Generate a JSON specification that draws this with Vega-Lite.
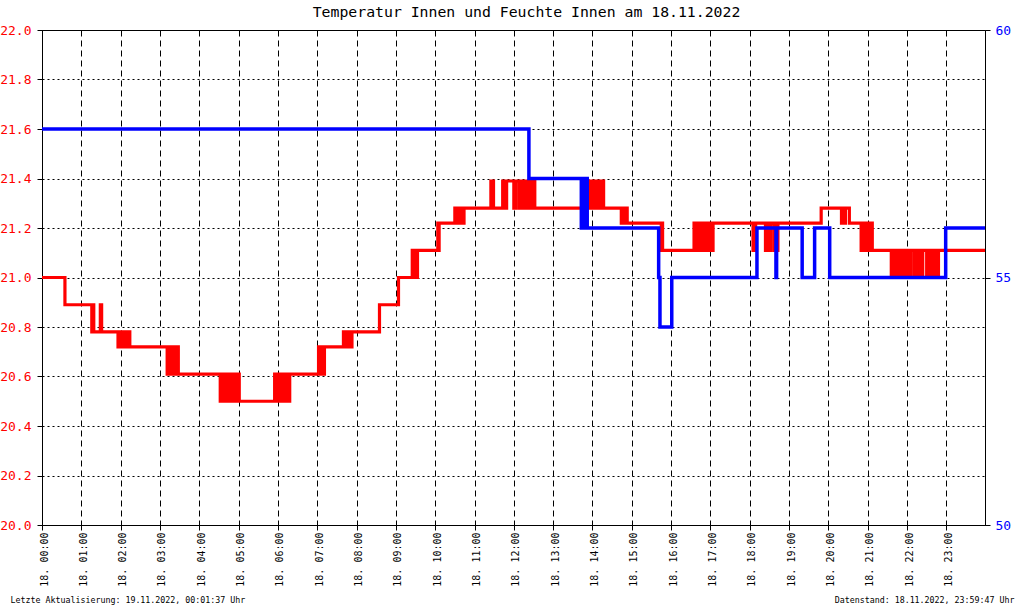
{
  "$schema": "https://vega.github.io/schema/vega-lite/v6.json",
  "width": 943,
  "height": 495,
  "autosize": {"type": "none"},
  "padding": {"left": 42, "top": 30, "right": 35, "bottom": 81},
  "title": {
    "text": "Temperatur Innen und Feuchte Innen am 18.11.2022",
    "font": "DejaVu Sans Mono",
    "fontSize": 14.8,
    "fontWeight": "normal",
    "color": "black",
    "anchor": "middle",
    "dx": 13,
    "offset": 4
  },
  "config": {
    "view": {"stroke": "black", "strokeWidth": 1}
  },
  "layer": [
    {
      "data": {"values": [
      {"time": "2022-11-18T00:00", "temp": 21.00},
      {"time": "2022-11-18T00:35", "temp": 20.89},
      {"time": "2022-11-18T01:16", "temp": 20.78},
      {"time": "2022-11-18T01:18", "temp": 20.89},
      {"time": "2022-11-18T01:19", "temp": 20.78},
      {"time": "2022-11-18T01:29", "temp": 20.89},
      {"time": "2022-11-18T01:31", "temp": 20.78},
      {"time": "2022-11-18T01:56", "temp": 20.72},
      {"time": "2022-11-18T01:58", "temp": 20.78},
      {"time": "2022-11-18T02:01", "temp": 20.72},
      {"time": "2022-11-18T02:03", "temp": 20.78},
      {"time": "2022-11-18T02:06", "temp": 20.72},
      {"time": "2022-11-18T02:08", "temp": 20.78},
      {"time": "2022-11-18T02:11", "temp": 20.72},
      {"time": "2022-11-18T02:12", "temp": 20.78},
      {"time": "2022-11-18T02:14", "temp": 20.72},
      {"time": "2022-11-18T03:11", "temp": 20.61},
      {"time": "2022-11-18T03:12", "temp": 20.72},
      {"time": "2022-11-18T03:14", "temp": 20.61},
      {"time": "2022-11-18T03:16", "temp": 20.72},
      {"time": "2022-11-18T03:18", "temp": 20.61},
      {"time": "2022-11-18T03:20", "temp": 20.72},
      {"time": "2022-11-18T03:22", "temp": 20.61},
      {"time": "2022-11-18T03:24", "temp": 20.72},
      {"time": "2022-11-18T03:26", "temp": 20.61},
      {"time": "2022-11-18T03:27", "temp": 20.72},
      {"time": "2022-11-18T03:28", "temp": 20.61},
      {"time": "2022-11-18T04:32", "temp": 20.50},
      {"time": "2022-11-18T04:33", "temp": 20.61},
      {"time": "2022-11-18T04:34", "temp": 20.50},
      {"time": "2022-11-18T04:36", "temp": 20.61},
      {"time": "2022-11-18T04:40", "temp": 20.50},
      {"time": "2022-11-18T04:44", "temp": 20.61},
      {"time": "2022-11-18T04:47", "temp": 20.50},
      {"time": "2022-11-18T04:50", "temp": 20.61},
      {"time": "2022-11-18T04:53", "temp": 20.50},
      {"time": "2022-11-18T04:57", "temp": 20.61},
      {"time": "2022-11-18T05:01", "temp": 20.50},
      {"time": "2022-11-18T05:55", "temp": 20.61},
      {"time": "2022-11-18T05:56", "temp": 20.50},
      {"time": "2022-11-18T05:58", "temp": 20.61},
      {"time": "2022-11-18T06:00", "temp": 20.50},
      {"time": "2022-11-18T06:03", "temp": 20.61},
      {"time": "2022-11-18T06:05", "temp": 20.50},
      {"time": "2022-11-18T06:08", "temp": 20.61},
      {"time": "2022-11-18T06:10", "temp": 20.50},
      {"time": "2022-11-18T06:13", "temp": 20.61},
      {"time": "2022-11-18T06:15", "temp": 20.50},
      {"time": "2022-11-18T06:18", "temp": 20.61},
      {"time": "2022-11-18T07:02", "temp": 20.72},
      {"time": "2022-11-18T07:04", "temp": 20.61},
      {"time": "2022-11-18T07:06", "temp": 20.72},
      {"time": "2022-11-18T07:08", "temp": 20.61},
      {"time": "2022-11-18T07:11", "temp": 20.72},
      {"time": "2022-11-18T07:40", "temp": 20.78},
      {"time": "2022-11-18T07:42", "temp": 20.72},
      {"time": "2022-11-18T07:45", "temp": 20.78},
      {"time": "2022-11-18T07:47", "temp": 20.72},
      {"time": "2022-11-18T07:50", "temp": 20.78},
      {"time": "2022-11-18T07:51", "temp": 20.72},
      {"time": "2022-11-18T07:53", "temp": 20.78},
      {"time": "2022-11-18T08:35", "temp": 20.89},
      {"time": "2022-11-18T09:04", "temp": 21.00},
      {"time": "2022-11-18T09:25", "temp": 21.11},
      {"time": "2022-11-18T09:27", "temp": 21.00},
      {"time": "2022-11-18T09:29", "temp": 21.11},
      {"time": "2022-11-18T09:31", "temp": 21.00},
      {"time": "2022-11-18T09:33", "temp": 21.11},
      {"time": "2022-11-18T10:04", "temp": 21.22},
      {"time": "2022-11-18T10:05", "temp": 21.11},
      {"time": "2022-11-18T10:06", "temp": 21.22},
      {"time": "2022-11-18T10:30", "temp": 21.28},
      {"time": "2022-11-18T10:32", "temp": 21.22},
      {"time": "2022-11-18T10:35", "temp": 21.28},
      {"time": "2022-11-18T10:37", "temp": 21.22},
      {"time": "2022-11-18T10:40", "temp": 21.28},
      {"time": "2022-11-18T10:42", "temp": 21.22},
      {"time": "2022-11-18T10:44", "temp": 21.28},
      {"time": "2022-11-18T11:25", "temp": 21.39},
      {"time": "2022-11-18T11:29", "temp": 21.28},
      {"time": "2022-11-18T11:43", "temp": 21.39},
      {"time": "2022-11-18T11:44", "temp": 21.28},
      {"time": "2022-11-18T11:46", "temp": 21.39},
      {"time": "2022-11-18T11:47", "temp": 21.28},
      {"time": "2022-11-18T11:49", "temp": 21.39},
      {"time": "2022-11-18T12:00", "temp": 21.28},
      {"time": "2022-11-18T12:03", "temp": 21.39},
      {"time": "2022-11-18T12:08", "temp": 21.28},
      {"time": "2022-11-18T12:09", "temp": 21.39},
      {"time": "2022-11-18T12:11", "temp": 21.28},
      {"time": "2022-11-18T12:12", "temp": 21.39},
      {"time": "2022-11-18T12:14", "temp": 21.28},
      {"time": "2022-11-18T12:15", "temp": 21.39},
      {"time": "2022-11-18T12:17", "temp": 21.28},
      {"time": "2022-11-18T12:18", "temp": 21.39},
      {"time": "2022-11-18T12:19", "temp": 21.28},
      {"time": "2022-11-18T12:21", "temp": 21.39},
      {"time": "2022-11-18T12:22", "temp": 21.28},
      {"time": "2022-11-18T12:26", "temp": 21.39},
      {"time": "2022-11-18T12:27", "temp": 21.28},
      {"time": "2022-11-18T12:31", "temp": 21.39},
      {"time": "2022-11-18T12:32", "temp": 21.28},
      {"time": "2022-11-18T13:52", "temp": 21.39},
      {"time": "2022-11-18T13:54", "temp": 21.28},
      {"time": "2022-11-18T13:56", "temp": 21.39},
      {"time": "2022-11-18T13:58", "temp": 21.28},
      {"time": "2022-11-18T14:00", "temp": 21.39},
      {"time": "2022-11-18T14:02", "temp": 21.28},
      {"time": "2022-11-18T14:04", "temp": 21.39},
      {"time": "2022-11-18T14:06", "temp": 21.28},
      {"time": "2022-11-18T14:07", "temp": 21.39},
      {"time": "2022-11-18T14:10", "temp": 21.28},
      {"time": "2022-11-18T14:11", "temp": 21.39},
      {"time": "2022-11-18T14:14", "temp": 21.28},
      {"time": "2022-11-18T14:15", "temp": 21.39},
      {"time": "2022-11-18T14:17", "temp": 21.28},
      {"time": "2022-11-18T14:44", "temp": 21.22},
      {"time": "2022-11-18T14:46", "temp": 21.28},
      {"time": "2022-11-18T14:48", "temp": 21.22},
      {"time": "2022-11-18T14:50", "temp": 21.28},
      {"time": "2022-11-18T14:53", "temp": 21.22},
      {"time": "2022-11-18T15:45", "temp": 21.11},
      {"time": "2022-11-18T15:46", "temp": 21.22},
      {"time": "2022-11-18T15:47", "temp": 21.11},
      {"time": "2022-11-18T16:35", "temp": 21.22},
      {"time": "2022-11-18T16:36", "temp": 21.11},
      {"time": "2022-11-18T16:38", "temp": 21.22},
      {"time": "2022-11-18T16:40", "temp": 21.11},
      {"time": "2022-11-18T16:42", "temp": 21.22},
      {"time": "2022-11-18T16:44", "temp": 21.11},
      {"time": "2022-11-18T16:46", "temp": 21.22},
      {"time": "2022-11-18T16:47", "temp": 21.11},
      {"time": "2022-11-18T16:49", "temp": 21.22},
      {"time": "2022-11-18T16:51", "temp": 21.11},
      {"time": "2022-11-18T16:53", "temp": 21.22},
      {"time": "2022-11-18T16:55", "temp": 21.11},
      {"time": "2022-11-18T16:57", "temp": 21.22},
      {"time": "2022-11-18T16:59", "temp": 21.11},
      {"time": "2022-11-18T17:00", "temp": 21.22},
      {"time": "2022-11-18T17:02", "temp": 21.11},
      {"time": "2022-11-18T17:04", "temp": 21.22},
      {"time": "2022-11-18T18:05", "temp": 21.11},
      {"time": "2022-11-18T18:09", "temp": 21.22},
      {"time": "2022-11-18T18:24", "temp": 21.11},
      {"time": "2022-11-18T18:27", "temp": 21.22},
      {"time": "2022-11-18T18:28", "temp": 21.11},
      {"time": "2022-11-18T18:32", "temp": 21.22},
      {"time": "2022-11-18T18:37", "temp": 21.11},
      {"time": "2022-11-18T18:39", "temp": 21.22},
      {"time": "2022-11-18T18:40", "temp": 21.11},
      {"time": "2022-11-18T18:43", "temp": 21.22},
      {"time": "2022-11-18T19:49", "temp": 21.28},
      {"time": "2022-11-18T20:20", "temp": 21.22},
      {"time": "2022-11-18T20:22", "temp": 21.28},
      {"time": "2022-11-18T20:23", "temp": 21.22},
      {"time": "2022-11-18T20:26", "temp": 21.28},
      {"time": "2022-11-18T20:32", "temp": 21.22},
      {"time": "2022-11-18T20:50", "temp": 21.11},
      {"time": "2022-11-18T20:51", "temp": 21.22},
      {"time": "2022-11-18T20:53", "temp": 21.11},
      {"time": "2022-11-18T20:55", "temp": 21.22},
      {"time": "2022-11-18T20:57", "temp": 21.11},
      {"time": "2022-11-18T20:59", "temp": 21.22},
      {"time": "2022-11-18T21:01", "temp": 21.11},
      {"time": "2022-11-18T21:02", "temp": 21.22},
      {"time": "2022-11-18T21:04", "temp": 21.11},
      {"time": "2022-11-18T21:06", "temp": 21.22},
      {"time": "2022-11-18T21:07", "temp": 21.11},
      {"time": "2022-11-18T21:36", "temp": 21.00},
      {"time": "2022-11-18T21:40", "temp": 21.11},
      {"time": "2022-11-18T21:44", "temp": 21.00},
      {"time": "2022-11-18T21:45", "temp": 21.11},
      {"time": "2022-11-18T21:48", "temp": 21.00},
      {"time": "2022-11-18T21:49", "temp": 21.11},
      {"time": "2022-11-18T21:52", "temp": 21.00},
      {"time": "2022-11-18T21:53", "temp": 21.11},
      {"time": "2022-11-18T21:56", "temp": 21.00},
      {"time": "2022-11-18T21:57", "temp": 21.11},
      {"time": "2022-11-18T22:01", "temp": 21.00},
      {"time": "2022-11-18T22:02", "temp": 21.11},
      {"time": "2022-11-18T22:05", "temp": 21.00},
      {"time": "2022-11-18T22:06", "temp": 21.11},
      {"time": "2022-11-18T22:11", "temp": 21.00},
      {"time": "2022-11-18T22:13", "temp": 21.11},
      {"time": "2022-11-18T22:17", "temp": 21.00},
      {"time": "2022-11-18T22:19", "temp": 21.11},
      {"time": "2022-11-18T22:23", "temp": 21.00},
      {"time": "2022-11-18T22:24", "temp": 21.11},
      {"time": "2022-11-18T22:30", "temp": 21.00},
      {"time": "2022-11-18T22:32", "temp": 21.11},
      {"time": "2022-11-18T22:35", "temp": 21.00},
      {"time": "2022-11-18T22:36", "temp": 21.11},
      {"time": "2022-11-18T22:39", "temp": 21.00},
      {"time": "2022-11-18T22:40", "temp": 21.11},
      {"time": "2022-11-18T22:43", "temp": 21.00},
      {"time": "2022-11-18T22:44", "temp": 21.11},
      {"time": "2022-11-18T22:47", "temp": 21.00},
      {"time": "2022-11-18T22:48", "temp": 21.11},
      {"time": "2022-11-18T23:59", "temp": 21.11}
      ]},
      "mark": {"type": "line", "interpolate": "step-after", "color": "#FF0000", "strokeWidth": 3.2},
      "encoding": {
        "x": {
          "field": "time",
          "type": "temporal",
          "axis": {
            "format": "%d. %H:%M",
            "labelAngle": -90,
            "labelFontSize": 10,
            "labelFont": "DejaVu Sans Mono",
            "labelColor": "black",
            "labelOffset": 2,
            "tickSize": 5,
            "tickColor": "black",
            "domainColor": "black",
            "grid": true,
            "gridColor": "black",
            "gridDash": [6, 4],
            "gridOpacity": 1,
            "title": "Letzte Aktualisierung: 19.11.2022, 00:01:37 Uhr\u00a0\u00a0\u00a0\u00a0\u00a0\u00a0\u00a0\u00a0\u00a0\u00a0\u00a0\u00a0\u00a0\u00a0\u00a0\u00a0\u00a0\u00a0\u00a0\u00a0\u00a0\u00a0\u00a0\u00a0\u00a0\u00a0\u00a0\u00a0\u00a0\u00a0\u00a0\u00a0\u00a0\u00a0\u00a0\u00a0\u00a0\u00a0\u00a0\u00a0\u00a0\u00a0\u00a0\u00a0\u00a0\u00a0\u00a0\u00a0\u00a0\u00a0\u00a0\u00a0\u00a0\u00a0\u00a0\u00a0\u00a0\u00a0\u00a0\u00a0\u00a0\u00a0\u00a0\u00a0\u00a0\u00a0\u00a0\u00a0\u00a0\u00a0\u00a0\u00a0\u00a0\u00a0\u00a0\u00a0\u00a0\u00a0\u00a0\u00a0\u00a0\u00a0\u00a0\u00a0\u00a0\u00a0\u00a0\u00a0\u00a0\u00a0\u00a0\u00a0\u00a0\u00a0\u00a0\u00a0\u00a0\u00a0\u00a0\u00a0\u00a0\u00a0\u00a0\u00a0\u00a0\u00a0\u00a0\u00a0\u00a0\u00a0\u00a0\u00a0\u00a0\u00a0\u00a0\u00a0\u00a0\u00a0Datenstand: 18.11.2022, 23:59:47 Uhr",
            "titleFont": "DejaVu Sans Mono",
            "titleFontSize": 8.3,
            "titleFontWeight": "normal",
            "titleColor": "black",
            "titleAnchor": "start",
            "titleAlign": "left",
            "titleBaseline": "alphabetic",
            "titleX": -32,
            "titleY": 77
          }
        },
        "y": {
          "field": "temp",
          "type": "quantitative",
          "scale": {"domain": [20, 22]},
          "axis": {
            "values": [20, 20.2, 20.4, 20.6, 20.8, 21, 21.2, 21.4, 21.6, 21.8, 22],
            "format": ".1f",
            "labelColor": "#FF0000",
            "labelFont": "DejaVu Sans Mono",
            "labelFontSize": 13,
            "labelPadding": 6,
            "tickSize": 5,
            "tickColor": "black",
            "domainColor": "black",
            "grid": true,
            "gridColor": "black",
            "gridDash": [2, 3],
            "gridOpacity": 1,
            "title": null
          }
        }
      }
    },
    {
      "data": {"values": [
      {"time": "2022-11-18T00:00", "hum": 58},
      {"time": "2022-11-18T12:23", "hum": 57},
      {"time": "2022-11-18T13:43", "hum": 56},
      {"time": "2022-11-18T13:44", "hum": 57},
      {"time": "2022-11-18T13:46", "hum": 56},
      {"time": "2022-11-18T13:47", "hum": 57},
      {"time": "2022-11-18T13:49", "hum": 56},
      {"time": "2022-11-18T13:50", "hum": 57},
      {"time": "2022-11-18T13:52", "hum": 56},
      {"time": "2022-11-18T15:41", "hum": 55},
      {"time": "2022-11-18T15:43", "hum": 54},
      {"time": "2022-11-18T16:01", "hum": 55},
      {"time": "2022-11-18T18:11", "hum": 56},
      {"time": "2022-11-18T18:40", "hum": 55},
      {"time": "2022-11-18T18:41", "hum": 56},
      {"time": "2022-11-18T19:20", "hum": 55},
      {"time": "2022-11-18T19:39", "hum": 56},
      {"time": "2022-11-18T20:02", "hum": 55},
      {"time": "2022-11-18T22:59", "hum": 56},
      {"time": "2022-11-18T23:59", "hum": 56}
      ]},
      "mark": {"type": "line", "interpolate": "step-after", "color": "#0000FF", "strokeWidth": 3.5},
      "encoding": {
        "x": {"field": "time", "type": "temporal"},
        "y": {
          "field": "hum",
          "type": "quantitative",
          "scale": {"domain": [50, 60]},
          "axis": {
            "orient": "right",
            "values": [50, 55, 60],
            "labelColor": "#0000FF",
            "labelFont": "DejaVu Sans Mono",
            "labelFontSize": 13,
            "labelPadding": 5,
            "tickSize": 5,
            "tickColor": "black",
            "domainColor": "black",
            "grid": false,
            "title": null
          }
        }
      }
    }
  ],
  "resolve": {"scale": {"y": "independent"}}
}
